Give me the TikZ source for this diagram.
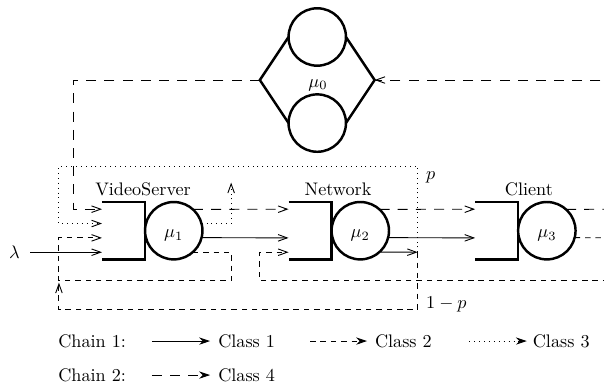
\documentclass[tikz,border=0pt]{standalone}
\usetikzlibrary{arrows.meta}
\begin{document}
\begin{tikzpicture}[x=7.8925pt,y=7.8925pt,
  qline/.style={line width=1.35pt},
  srv/.style={circle,draw,line width=1.35pt,minimum size=31.57pt,inner sep=0pt,outer sep=0pt},
  buf/.style={rectangle,minimum width=23.68pt,minimum height=31.57pt,inner sep=0pt,outer sep=0pt},
  conn/.style={line width=0.5pt},
  cls1/.style={conn},
  cls2/.style={conn,dash pattern=on 3pt off 2.7pt},
  cls3/.style={conn,dash pattern=on 0.5pt off 2.2pt},
  cls4/.style={conn,dash pattern=on 5.5pt off 4.5pt},
  tip/.style={-{Straight Barb[length=5pt,width=3.6pt]}},
  legtip/.style={-{Stealth[length=6pt,width=4pt,inset=2pt]}},
  lbl/.style={inner sep=0pt},
]
\useasboundingbox (-7.108,14.077) rectangle (34.983,-12.892);
\clip (-7.108,14.077) rectangle (34.983,-12.892);

% the three stations: buffer + server
\foreach \q/\x in {1/0,2/13,3/26}{
  \node[buf] (b\q) at (\x+1.5,-2) {};
  \draw[qline] (b\q.north west) -- (b\q.north east) -- (b\q.south east) -- (b\q.south west);
  \node[srv] (s\q) at (\x+5,-2) {};
  \node (mu\q) at (\x+5,-2.35) {$\mu_\q$};
  \coordinate (ina\q) at (\x,-0.5);
  \coordinate (inb\q) at (\x,-1.5);
  \coordinate (inc\q) at (\x,-2.5);
  \coordinate (ind\q) at (\x,-3.5);
}
\node (lvs) at (2.86,0.9) {VideoServer};
\node (lnw) at (16.45,0.9) {Network};
\node (lcl) at (29.75,0.9) {Client};

% delay station with two parallel servers
\coordinate (dL) at (11,8.5);
\coordinate (dR) at (19,8.5);
\node[srv] (dt) at (15,11.5) {};
\node[srv] (db) at (15,5.5) {};
\draw[qline] (dt.west) -- (dL) -- (db.west);
\draw[qline] (dt.east) -- (dR) -- (db.east);
\node (mu0) at (15.05,8.15) {$\mu_0$};

% points at the right border
\coordinate (e4top) at (36,8.5);
\coordinate (e4out) at (36,-0.5);
\coordinate (e2out) at (36,-2.5);
\coordinate (e2in) at (36,-5.5);

% class 4
\coordinate (k4) at (-2,8.5);
\draw[cls4,tip] (e4top) -- (dR);
\draw[cls4,tip] (dL) -- (k4) |- (ina1);
\draw[cls4,tip] (s1.48.59) -- (ina2);
\draw[cls4,tip] (s2.48.59) -- (ina3);
\draw[cls4] (s3.48.59) -- (e4out);

% class 1
\node[inner sep=5.6pt] (lam) at (-6.1,-3.5) {$\lambda$};
\coordinate (br) at (22,-3.5);
\draw[cls1,tip] (lam.east) -- (ind1);
\draw[cls1,tip] (s1.-14.48) -- (inc2);
\draw[cls1,tip] (s2.-14.48) -- (inc3);
\draw[cls1,tip] (s2.-48.59) -- (br);

% class 3
\coordinate (p1) at (22,2.5);
\coordinate (p2) at (-3,2.5);
\coordinate (up3) at (9,1.35);
\draw[cls3,tip] (br) -- (p1) -- (p2) |- (inb1);
\draw[cls3,tip] (s1.14.48) -| (up3);

% class 2
\coordinate (r1) at (9,-5.5);
\coordinate (r2) at (-3,-5.5);
\coordinate (q1) at (22,-7.5);
\coordinate (q2) at (-3,-7.5);
\coordinate (q3) at (-3,-5.62);
\coordinate (n1) at (11,-5.5);
\draw[cls2,tip] (s1.-48.59) -| (r1) -- (r2) |- (inc1);
\draw[cls2,tip] (br) -- (q1) -- (q2) -- (q3);
\draw[cls2] (s3.-14.48) -- (e2out);
\draw[cls2,tip] (e2in) -- (n1) |- (ind2);

\node (lp) at (22.9,1.75) {$p$};
\node (l1p) at (24.0,-7.15) {$1-p$};

% legend
\node[lbl,anchor=base west] (ch1) at (-3.07,-10.17) {Chain 1:};
\node[lbl,anchor=base west] (t1) at (8.08,-10.17) {Class 1};
\node[lbl,anchor=base west] (t2) at (19.0,-10.17) {Class 2};
\node[lbl,anchor=base west] (t3) at (30.0,-10.17) {Class 3};
\node[lbl,anchor=base west] (ch2) at (-3.07,-12.54) {Chain 2:};
\node[lbl,anchor=base west] (t4) at (8.08,-12.54) {Class 4};
\coordinate (a1s) at (3.48,-9.69);  \coordinate (a1e) at (7.53,-9.69);
\coordinate (a2s) at (14.5,-9.69);  \coordinate (a2e) at (18.47,-9.69);
\coordinate (a3s) at (25.6,-9.69);  \coordinate (a3e) at (29.6,-9.69);
\coordinate (a4s) at (3.48,-12.06); \coordinate (a4e) at (7.53,-12.06);
\draw[cls1,legtip] (a1s) -- (a1e);
\draw[cls2,legtip] (a2s) -- (a2e);
\draw[cls3,legtip] (a3s) -- (a3e);
\draw[cls4,legtip] (a4s) -- (a4e);
\end{tikzpicture}
\end{document}
